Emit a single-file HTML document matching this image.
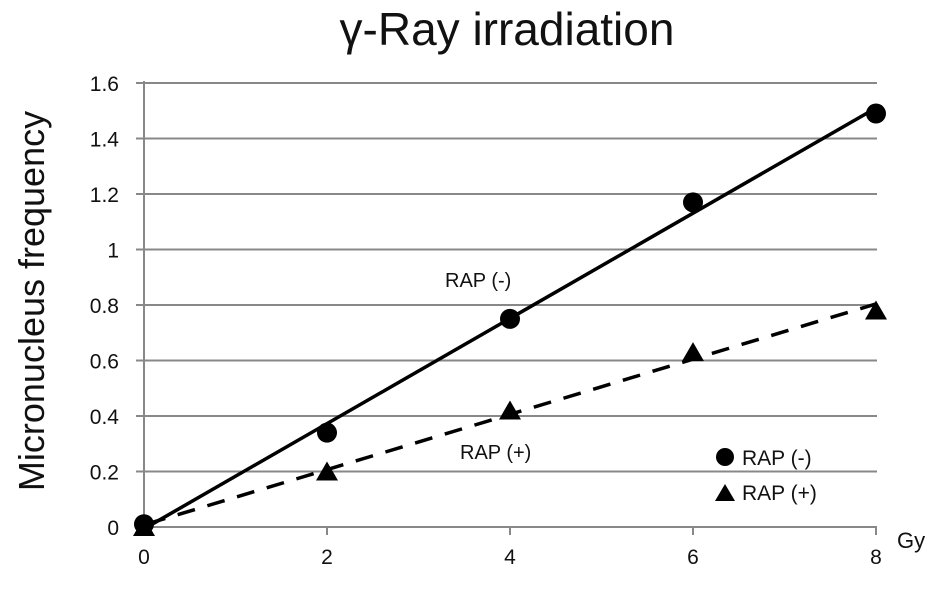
<!DOCTYPE html>
<html><head><meta charset="utf-8"><style>
body{margin:0;background:#fff;}
svg{display:block;font-family:"Liberation Sans",sans-serif;}
</style></head><body>
<svg id="chart" width="945" height="590">
<text x="507" y="45" font-size="46" text-anchor="middle" fill="#111">γ-Ray irradiation</text>
<text transform="translate(44,301) rotate(-90)" font-size="36" text-anchor="middle" fill="#111">Micronucleus frequency</text>
<text x="897" y="548" font-size="22" fill="#111">Gy</text>
<g id="grid"></g><g id="lines"></g><g id="marks"></g>
<text x="445" y="287" font-size="20" fill="#111">RAP (-)</text>
<text x="460" y="459" font-size="20" fill="#111">RAP (+)</text>
<g>
<circle cx="725" cy="457" r="9" fill="#000"></circle>
<text x="742" y="465" font-size="21" fill="#111">RAP (-)</text>
<polygon points="715,501 725,484 735,501" fill="#000"></polygon>
<text x="742" y="500" font-size="21" fill="#111">RAP (+)</text>
</g>
</svg>
<script>
const doses=[0,2,4,6,8];
const rapMinus=[0.01,0.34,0.75,1.17,1.49];
const rapPlus=[0,0.2,0.42,0.63,0.78];
const yTicks=[0,0.2,0.4,0.6,0.8,1,1.2,1.4,1.6];
const yTickLabels=["0","0.2","0.4","0.6","0.8","1","1.2","1.4","1.6"];
const xTicks=[0,2,4,6,8];
const NS="http://www.w3.org/2000/svg";
const X=v=>144+v*91.5, Y=v=>527-v*277.5;
function mk(tag,attrs,parent){const e=document.createElementNS(NS,tag);for(const k in attrs)e.setAttribute(k,attrs[k]);parent.appendChild(e);return e;}
const grid=document.getElementById('grid'),lines=document.getElementById('lines'),marks=document.getElementById('marks');
yTicks.forEach((t,i)=>{
 const l=mk('line',{x1:136,x2:877,y1:Y(t),y2:Y(t),stroke:'#888','stroke-width':2},grid);
 
 
 const tx=mk('text',{x:119,y:Y(t)+8,'font-size':21,'text-anchor':'end',fill:'#111'},grid);
 tx.textContent=yTickLabels[i];
 
 
});
const ya=mk('line',{x1:144,x2:144,y1:Y(1.6)-2,y2:Y(0),stroke:'#888','stroke-width':2},grid);


xTicks.forEach(t=>{
 const l=mk('line',{x1:X(t),x2:X(t),y1:527,y2:535,stroke:'#888','stroke-width':2},grid);
 
 
 const tx=mk('text',{x:X(t),y:564,'font-size':21,'text-anchor':'middle',fill:'#111'},grid);
 tx.textContent=String(t);
 
 
});
function fit(xs,ys){const n=xs.length,mx=xs.reduce((a,b)=>a+b)/n,my=ys.reduce((a,b)=>a+b)/n;let sxy=0,sxx=0;xs.forEach((x,i)=>{sxy+=(x-mx)*(ys[i]-my);sxx+=(x-mx)**2});const s=sxy/sxx;return [s,my-s*mx];}
[[rapMinus,'none','trend-rap-minus'],[rapPlus,'18 13','trend-rap-plus']].forEach(([ys,dash,name])=>{
 const [s,b]=fit(doses,ys);
 const l=mk('line',{x1:X(0)+4,y1:Y(b+s*0.04),x2:X(8),y2:Y(b+s*8),stroke:'#000','stroke-width':3.5,'stroke-dasharray':dash},lines);
 
 
});
doses.forEach((d,i)=>{
 const c=mk('circle',{cx:X(d),cy:Y(rapMinus[i]),r:10,fill:'#000'},marks);
 
 
 const x=X(d),y=Y(rapPlus[i]);
 const p=mk('polygon',{points:`${x-11},${y+9} ${x},${y-10} ${x+11},${y+9}`,fill:'#000'},marks);
 
 
});
</script>
</body></html>
